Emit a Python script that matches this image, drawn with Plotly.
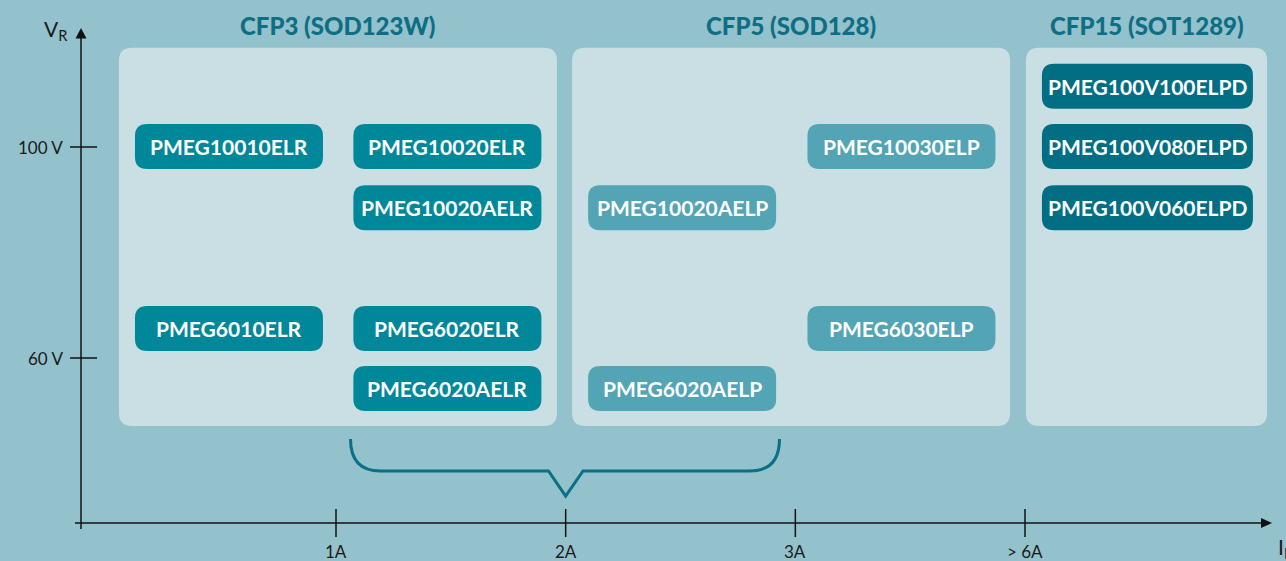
import plotly.graph_objects as go

# Families (panels) and their titles
PACKAGES = ["CFP3 (SOD123W)", "CFP5 (SOD128)", "CFP15 (SOT1289)"]
PKG_CURRENT_FROM = [0.055, 2.028, 4.004]
PKG_CURRENT_TO = [1.962, 3.935, 5.054]
PKG_VOLT_FROM = [47.1, 47.1, 47.1]
PKG_VOLT_TO = [118.8, 118.8, 118.8]

# Parts: label, package index, column (current position) and row (voltage position)
PARTS = [
    "PMEG10010ELR", "PMEG10020ELR", "PMEG10020AELR",
    "PMEG6010ELR", "PMEG6020ELR", "PMEG6020AELR",
    "PMEG10020AELP", "PMEG10030ELP", "PMEG6030ELP", "PMEG6020AELP",
    "PMEG100V100ELPD", "PMEG100V080ELPD", "PMEG100V060ELPD",
]
PART_PKG = [0, 0, 0, 0, 0, 0, 1, 1, 1, 1, 2, 2, 2]
PART_CURRENT = [0.534, 1.485, 1.485, 0.534, 1.485, 1.485,
                2.507, 3.462, 3.462, 2.507,
                4.533, 4.533, 4.533]
PART_VOLT = [100.1, 100.1, 88.5, 65.6, 65.6, 54.2,
             88.5, 100.1, 65.6, 54.2,
             111.5, 100.1, 88.5]

X_TICKS = [1, 2, 3, 4]
X_LABELS = ["1A", "2A", "3A", "> 6A"]
Y_TICKS = [60, 100]
Y_LABELS = ["60 V", "100 V"]

BG = "#93C1CC"
PANEL = "#CADFE4"
PILL_COLORS = ["#00889A", "#53A4B5", "#016E84"]
TITLE_COLOR = "#0D6E84"
FONT = "Lato"

# pixel scale of the canvas
W, H = 1286, 561
SX = 229.67            # px per current step
SY = 5.275             # px per volt
X0 = 1 - 336 / SX
Y_TOP = 100 + 147 / SY


def px_x(p):
    return X0 + p / SX


def px_y(p):
    return Y_TOP - p / SY


def rrect(x0, x1, y0, y1, r):
    rx, ry = r / SX, r / SY
    return (f"M {x0+rx},{y1} L {x1-rx},{y1} Q {x1},{y1} {x1},{y1-ry} "
            f"L {x1},{y0+ry} Q {x1},{y0} {x1-rx},{y0} L {x0+rx},{y0} "
            f"Q {x0},{y0} {x0},{y0+ry} L {x0},{y1-ry} Q {x0},{y1} {x0+rx},{y1} Z")


shapes = []
annotations = []

# panels + titles
for i, name in enumerate(PACKAGES):
    shapes.append(dict(type="path", xref="x", yref="y", layer="below",
                       path=rrect(PKG_CURRENT_FROM[i], PKG_CURRENT_TO[i],
                                  PKG_VOLT_FROM[i], PKG_VOLT_TO[i], 13),
                       fillcolor=PANEL, line=dict(width=0)))
    annotations.append(dict(x=(PKG_CURRENT_FROM[i] + PKG_CURRENT_TO[i]) / 2, y=px_y(25),
                            text=name, showarrow=False,
                            font=dict(family=FONT, size=24, color=TITLE_COLOR, weight=900)))

# part pills
for name, pkg, cx, cy in zip(PARTS, PART_PKG, PART_CURRENT, PART_VOLT):
    w = (211 if pkg == 2 else 188) / SX
    h = 45 / SY
    shapes.append(dict(type="path", xref="x", yref="y",
                       path=rrect(cx - w / 2, cx + w / 2, cy - h / 2, cy + h / 2, 12),
                       fillcolor=PILL_COLORS[pkg], line=dict(width=0)))
    annotations.append(dict(x=cx, y=cy, text=name, showarrow=False,
                            font=dict(family=FONT, size=21, color="white", weight="bold")))

axis_line = dict(color="#111111", width=1.5)
label_font = dict(family=FONT, size=17, color="#1a1a1a")
x_axis_y = px_y(523)
y_axis_x = px_x(81)

# axes lines
shapes.append(dict(type="line", xref="x", yref="y", x0=y_axis_x, x1=y_axis_x,
                   y0=px_y(529), y1=px_y(37), line=axis_line))
shapes.append(dict(type="line", xref="x", yref="y", x0=px_x(75), x1=px_x(1262),
                   y0=x_axis_y, y1=x_axis_y, line=axis_line))
# arrow heads
shapes.append(dict(type="path", xref="x", yref="y",
                   path=f"M {y_axis_x},{px_y(28)} L {px_x(86.5)},{px_y(38.5)} L {px_x(75.5)},{px_y(38.5)} Z",
                   fillcolor="#111111", line=dict(width=0)))
shapes.append(dict(type="path", xref="x", yref="y",
                   path=f"M {px_x(1272)},{x_axis_y} L {px_x(1261)},{px_y(518)} L {px_x(1261)},{px_y(528)} Z",
                   fillcolor="#111111", line=dict(width=0)))

# ticks
for v, lab in zip(X_TICKS, X_LABELS):
    shapes.append(dict(type="line", xref="x", yref="y", x0=v, x1=v,
                       y0=px_y(509), y1=px_y(537), line=axis_line))
    annotations.append(dict(x=v, y=px_y(551), text=lab, showarrow=False, font=label_font))
for v, lab in zip(Y_TICKS, Y_LABELS):
    shapes.append(dict(type="line", xref="x", yref="y", x0=px_x(70), x1=px_x(97),
                       y0=v, y1=v, line=axis_line))
    annotations.append(dict(x=px_x(65), y=v, text=lab, showarrow=False, xanchor="right",
                            font=label_font))

# axis titles
annotations.append(dict(x=px_x(42), y=px_y(30), text="V<sub>R</sub>", showarrow=False,
                        xanchor="left", font=dict(family=FONT, size=21, color="#1a1a1a")))
annotations.append(dict(x=px_x(1276), y=px_y(548), text="I<sub>F</sub>", showarrow=False,
                        xanchor="left", font=dict(family=FONT, size=21, color="#1a1a1a")))

# brace under the 2A parts
bx0, bx1, bxm = px_x(350.5), px_x(779.5), 2
by0, byh, bya = px_y(439), px_y(471), px_y(496)
rx, ry = 30 / SX, 32 / SY
brace = (f"M {bx0},{by0} Q {bx0},{byh} {bx0+rx},{byh} L {px_x(548.5)},{byh} "
         f"L {bxm},{bya} L {px_x(583)},{byh} L {bx1-rx},{byh} Q {bx1},{byh} {bx1},{by0}")
shapes.append(dict(type="path", xref="x", yref="y", path=brace,
                   line=dict(color="#0B6F86", width=3)))

fig = go.Figure()
fig.add_trace(go.Scatter(x=[None], y=[None], showlegend=False, hoverinfo="skip"))
fig.update_layout(
    width=W, height=H,
    margin=dict(l=0, r=0, t=0, b=0),
    paper_bgcolor=BG, plot_bgcolor=BG,
    showlegend=False,
    xaxis=dict(range=[px_x(0), px_x(W)], visible=False, fixedrange=True),
    yaxis=dict(range=[px_y(H), px_y(0)], visible=False, fixedrange=True),
    shapes=shapes,
    annotations=annotations,
)
fig.write_html("out.html", config={"displayModeBar": False},
               post_script="document.body.style.margin='0';")
